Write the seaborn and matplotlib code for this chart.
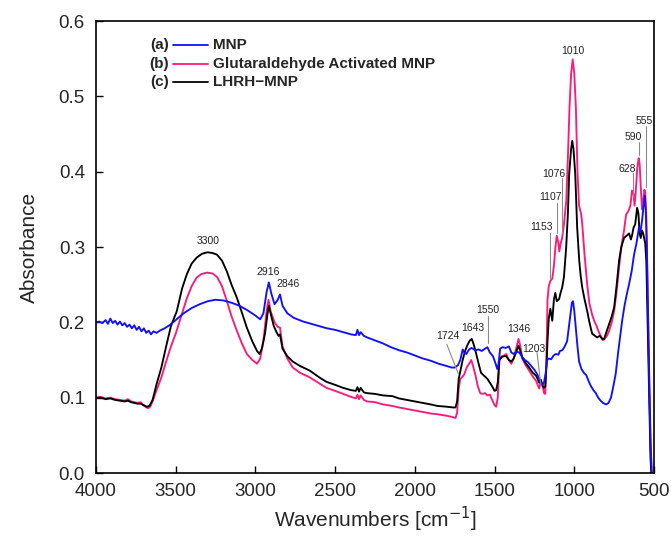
import pandas as pd
import seaborn as sns
import matplotlib.pyplot as plt

# (a) MNP
mnp_wn = [4000, 3980, 3960, 3940, 3925, 3910, 3895, 3880, 3865, 3850, 3835, 3820, 3805, 3790,
          3775, 3760, 3745, 3730, 3715, 3700, 3685, 3670, 3655, 3640, 3620, 3600, 3570, 3540,
          3500, 3450, 3400, 3350, 3300, 3250, 3200, 3150, 3100, 3050, 3000, 2970, 2950, 2930,
          2916, 2900, 2880, 2860, 2846, 2830, 2800, 2760, 2700, 2650, 2600, 2550, 2500, 2450,
          2400, 2370, 2360, 2350, 2340, 2320, 2300, 2250, 2200, 2150, 2100, 2050, 2000, 1950,
          1900, 1850, 1800, 1770, 1750, 1730, 1715, 1700, 1690, 1677, 1660, 1645, 1620, 1600,
          1580, 1560, 1545, 1530, 1510, 1495, 1483, 1475, 1465, 1450, 1430, 1410, 1395, 1380,
          1360, 1345, 1330, 1310, 1290, 1270, 1250, 1230, 1215, 1200, 1190, 1180, 1170, 1160,
          1145, 1130, 1115, 1100, 1090, 1075, 1060, 1045, 1030, 1015, 1008, 1000, 990, 980,
          970, 955, 940, 925, 910, 895, 880, 865, 850, 835, 820, 800, 785, 770, 755, 740, 725,
          710, 700, 685, 670, 656, 640, 625, 610, 600, 594, 585, 575, 565, 558, 552, 545, 538,
          530, 522, 515]
mnp_abs = [0.200, 0.201, 0.199, 0.203, 0.198, 0.205, 0.199, 0.202, 0.197, 0.201, 0.196, 0.199,
           0.194, 0.197, 0.192, 0.196, 0.190, 0.194, 0.188, 0.192, 0.186, 0.189, 0.184, 0.188,
           0.186, 0.189, 0.192, 0.196, 0.203, 0.212, 0.219, 0.224, 0.228, 0.230, 0.229, 0.226,
           0.222, 0.216, 0.209, 0.204, 0.212, 0.240, 0.253, 0.238, 0.224, 0.230, 0.237, 0.222,
           0.212, 0.206, 0.201, 0.198, 0.195, 0.192, 0.190, 0.187, 0.184, 0.183, 0.190, 0.183,
           0.187, 0.182, 0.180, 0.176, 0.172, 0.167, 0.163, 0.160, 0.156, 0.152, 0.149, 0.145,
           0.142, 0.140, 0.140, 0.143, 0.150, 0.164, 0.160, 0.158, 0.164, 0.166, 0.163, 0.164,
           0.162, 0.165, 0.167, 0.160, 0.155, 0.146, 0.138, 0.145, 0.165, 0.167, 0.166, 0.168,
           0.160, 0.158, 0.161, 0.160, 0.155, 0.150, 0.147, 0.142, 0.137, 0.130, 0.122, 0.117,
           0.120, 0.132, 0.150, 0.152, 0.151, 0.156, 0.158, 0.157, 0.162, 0.163, 0.168, 0.175,
           0.200, 0.226, 0.228, 0.215, 0.192, 0.168, 0.148, 0.138, 0.133, 0.130, 0.122, 0.115,
           0.110, 0.106, 0.100, 0.096, 0.093, 0.091, 0.093, 0.100, 0.115, 0.132, 0.160, 0.185,
           0.202, 0.222, 0.238, 0.251, 0.268, 0.290, 0.305, 0.318, 0.326, 0.320, 0.335, 0.355,
           0.368, 0.350, 0.300, 0.220, 0.120, 0.040, 0.000]

# (b) Glutaraldehyde Activated MNP
glu_wn = [4000, 3970, 3940, 3910, 3880, 3850, 3820, 3800, 3780, 3760, 3740, 3720, 3705, 3690,
          3675, 3660, 3645, 3620, 3590, 3560, 3530, 3500, 3460, 3430, 3400, 3370, 3340, 3305,
          3270, 3240, 3210, 3180, 3150, 3117, 3085, 3054, 3020, 2990, 2970, 2950, 2930, 2918,
          2905, 2880, 2860, 2846, 2830, 2800, 2766, 2720, 2660, 2600, 2554, 2500, 2450, 2400,
          2370, 2360, 2350, 2340, 2320, 2300, 2250, 2200, 2140, 2100, 2050, 2000, 1950, 1900,
          1858, 1800, 1760, 1745, 1735, 1725, 1715, 1700, 1690, 1675, 1660, 1646, 1635, 1620,
          1605, 1590, 1577, 1560, 1545, 1530, 1515, 1500, 1490, 1480, 1470, 1455, 1440, 1427,
          1410, 1395, 1380, 1365, 1350, 1340, 1326, 1305, 1283, 1260, 1239, 1220, 1210, 1200,
          1190, 1182, 1175, 1168, 1160, 1150, 1138, 1128, 1118, 1110, 1100, 1094, 1085, 1076,
          1065, 1050, 1040, 1030, 1020, 1010, 1000, 990, 980, 970, 957, 950, 935, 919, 905,
          888, 875, 860, 844, 830, 820, 810, 795, 781, 765, 750, 735, 719, 705, 688, 675, 660,
          648, 638, 628, 622, 615, 605, 596, 590, 582, 575, 568, 560, 555, 548, 540, 530, 520,
          513]
glu_abs = [0.100, 0.101, 0.099, 0.100, 0.098, 0.097, 0.096, 0.098, 0.095, 0.094, 0.093, 0.094,
           0.090, 0.088, 0.086, 0.088, 0.095, 0.110, 0.127, 0.148, 0.168, 0.185, 0.212, 0.232,
           0.248, 0.259, 0.264, 0.266, 0.265, 0.260, 0.248, 0.229, 0.208, 0.189, 0.172, 0.158,
           0.150, 0.145, 0.152, 0.175, 0.215, 0.230, 0.215, 0.200, 0.194, 0.193, 0.168, 0.152,
           0.140, 0.133, 0.127, 0.119, 0.113, 0.109, 0.105, 0.101, 0.099, 0.104, 0.098, 0.103,
           0.097, 0.095, 0.094, 0.091, 0.089, 0.087, 0.085, 0.083, 0.081, 0.079, 0.078, 0.076,
           0.074, 0.073, 0.080, 0.112, 0.125, 0.128, 0.131, 0.140, 0.145, 0.150, 0.142, 0.130,
           0.115, 0.106, 0.105, 0.106, 0.103, 0.104, 0.097, 0.090, 0.088, 0.100, 0.150, 0.155,
           0.156, 0.158, 0.150, 0.145, 0.152, 0.165, 0.178, 0.170, 0.152, 0.143, 0.136, 0.128,
           0.122, 0.112, 0.122, 0.118, 0.106, 0.105, 0.150, 0.230, 0.248, 0.255, 0.258, 0.275,
           0.300, 0.315, 0.306, 0.294, 0.305, 0.312, 0.330, 0.362, 0.420, 0.485, 0.530, 0.549,
           0.530, 0.485, 0.400, 0.355, 0.344, 0.330, 0.288, 0.250, 0.225, 0.210, 0.202, 0.195,
           0.186, 0.180, 0.176, 0.178, 0.182, 0.189, 0.200, 0.215, 0.240, 0.273, 0.300, 0.322,
           0.343, 0.348, 0.355, 0.375, 0.370, 0.355, 0.372, 0.405, 0.418, 0.410, 0.375, 0.350,
           0.362, 0.376, 0.372, 0.340, 0.250, 0.130, 0.030, 0.000]

# (c) LHRH-MNP
lhrh_wn = [4000, 3970, 3940, 3910, 3880, 3850, 3820, 3800, 3780, 3760, 3740, 3720, 3700, 3682,
           3665, 3645, 3620, 3590, 3560, 3530, 3493, 3460, 3430, 3400, 3368, 3335, 3300, 3270,
           3242, 3210, 3180, 3150, 3117, 3085, 3054, 3020, 2990, 2975, 2960, 2940, 2925, 2916,
           2905, 2885, 2870, 2855, 2846, 2830, 2800, 2766, 2720, 2660, 2600, 2554, 2500, 2450,
           2400, 2370, 2360, 2350, 2340, 2320, 2300, 2250, 2200, 2140, 2100, 2050, 2000, 1950,
           1900, 1858, 1800, 1760, 1745, 1735, 1725, 1715, 1700, 1685, 1670, 1655, 1643, 1630,
           1615, 1600, 1585, 1570, 1545, 1530, 1515, 1500, 1490, 1480, 1470, 1455, 1440, 1427,
           1410, 1395, 1380, 1365, 1350, 1340, 1326, 1305, 1283, 1260, 1239, 1220, 1210, 1200,
           1190, 1182, 1175, 1168, 1160, 1150, 1138, 1128, 1119, 1110, 1095, 1085, 1076, 1065,
           1051, 1040, 1032, 1020, 1013, 1005, 994, 982, 969, 960, 950, 935, 919, 905, 888, 870,
           857, 840, 825, 813, 797, 781, 765, 750, 735, 719, 705, 688, 672, 656, 645, 638, 628,
           618, 606, 598, 590, 583, 575, 568, 562, 555, 548, 540, 530, 522, 517]
lhrh_abs = [0.100, 0.100, 0.098, 0.099, 0.097, 0.096, 0.095, 0.096, 0.094, 0.093, 0.092, 0.092,
            0.090, 0.088, 0.089, 0.097, 0.118, 0.140, 0.168, 0.195, 0.215, 0.245, 0.264, 0.278,
            0.286, 0.291, 0.293, 0.292, 0.290, 0.282, 0.268, 0.250, 0.233, 0.213, 0.193, 0.175,
            0.162, 0.158, 0.165, 0.185, 0.210, 0.222, 0.212, 0.195, 0.188, 0.182, 0.184, 0.165,
            0.155, 0.148, 0.142, 0.136, 0.127, 0.121, 0.117, 0.113, 0.110, 0.109, 0.114, 0.108,
            0.113, 0.107, 0.106, 0.105, 0.103, 0.102, 0.099, 0.097, 0.095, 0.093, 0.091, 0.089,
            0.088, 0.087, 0.087, 0.095, 0.125, 0.135, 0.150, 0.162, 0.170, 0.176, 0.178, 0.170,
            0.158, 0.145, 0.133, 0.130, 0.125, 0.120, 0.115, 0.109, 0.110, 0.120, 0.150, 0.154,
            0.155, 0.155, 0.150, 0.148, 0.152, 0.160, 0.169, 0.163, 0.153, 0.146, 0.140, 0.133,
            0.129, 0.120, 0.124, 0.116, 0.113, 0.115, 0.140, 0.175, 0.205, 0.218, 0.202, 0.230,
            0.239, 0.228, 0.231, 0.240, 0.246, 0.260, 0.299, 0.345, 0.397, 0.430, 0.441, 0.430,
            0.397, 0.326, 0.282, 0.262, 0.246, 0.230, 0.215, 0.200, 0.185, 0.182, 0.180, 0.182,
            0.178, 0.178, 0.188, 0.198, 0.208, 0.220, 0.248, 0.282, 0.300, 0.312, 0.315, 0.318,
            0.310, 0.315, 0.326, 0.330, 0.352, 0.345, 0.318, 0.312, 0.322, 0.318, 0.312, 0.305,
            0.280, 0.200, 0.100, 0.020, 0.000]

# peak labels (text position in data units)
peak_labels = ["3300", "2916", "2846", "1724", "1643", "1550", "1346", "1203",
               "1153", "1107", "1076", "1010", "628", "590", "555"]
peak_wn = [3299, 2923, 2798, 1796, 1639, 1545, 1351, 1251,
           1209, 1152, 1127, 1010, 669, 632, 559]
peak_abs = [0.308, 0.267, 0.251, 0.182, 0.193, 0.217, 0.191, 0.165,
            0.326, 0.366, 0.397, 0.560, 0.404, 0.446, 0.467]

# leader lines: (wn start, abs start, wn end, abs end)
leader_wn0 = [1800, 1539, 1234, 1153, 1109, 1079, 630, 594, 553]
leader_a0 = [0.171, 0.209, 0.160, 0.318, 0.359, 0.391, 0.398, 0.439, 0.460]
leader_wn1 = [1728, 1539, 1209, 1153, 1109, 1079, 630, 594, 553]
leader_a1 = [0.132, 0.173, 0.116, 0.258, 0.318, 0.318, 0.366, 0.422, 0.379]

series_names = ["MNP", "Glutaraldehyde Activated MNP", "LHRH\u2212MNP"]
series_tags = ["(a)", "(b)", "(c)"]
series_colors = ["#1010ff", "#ff1a78", "#000000"]

sns.set_theme(style="white")
plt.rcParams['font.family'] = ['Liberation Sans', 'DejaVu Sans']

fig = plt.figure(figsize=(6.71, 5.39), dpi=100)
ax = fig.add_axes([96 / 671, 1 - 473 / 539, 558 / 671, 452 / 539])

df_mnp = pd.DataFrame({"wn": mnp_wn, "abs": mnp_abs})
df_glu = pd.DataFrame({"wn": glu_wn, "abs": glu_abs})
df_lhrh = pd.DataFrame({"wn": lhrh_wn, "abs": lhrh_abs})

sns.lineplot(data=df_glu, x="wn", y="abs", ax=ax, color=series_colors[1], lw=1.35)
sns.lineplot(data=df_lhrh, x="wn", y="abs", ax=ax, color=series_colors[2], lw=1.35)
sns.lineplot(data=df_mnp, x="wn", y="abs", ax=ax, color=series_colors[0], lw=1.35)

for lab, w, a in zip(peak_labels, peak_wn, peak_abs):
    ax.text(w, a, lab, ha="center", va="center", fontsize=7.5, color="#222222")
for w0, a0, w1, a1 in zip(leader_wn0, leader_a0, leader_wn1, leader_a1):
    ax.plot([w0, w1], [a0, a1], color="#8a8a8a", lw=0.8)

# legend drawn by hand: tag, line, name
leg_y = [0.947, 0.905, 0.864]
for tag, name, col, y in zip(series_tags, series_names, series_colors, leg_y):
    ax.text(0.130, y, tag, transform=ax.transAxes, ha="right", va="center",
            fontsize=11, fontweight="bold")
    ax.plot([0.138, 0.200], [y, y], transform=ax.transAxes, color=col, lw=1.3)
    ax.text(0.209, y, name, transform=ax.transAxes, ha="left", va="center",
            fontsize=11, fontweight="bold")

ax.set_xlim(4000, 500)
ax.set_ylim(0, 0.6)
ax.set_xticks([4000, 3500, 3000, 2500, 2000, 1500, 1000, 500])
ax.set_yticks([0.0, 0.1, 0.2, 0.3, 0.4, 0.5, 0.6])
ax.set_yticklabels(["0.0", "0.1", "0.2", "0.3", "0.4", "0.5", "0.6"])
ax.tick_params(direction="in", length=5, width=1, labelsize=13.5, color="black",
               bottom=True, left=True, top=False, right=False)
ax.tick_params(axis="y", pad=8)
ax.tick_params(axis="x", pad=7)
for s in ax.spines.values():
    s.set_color("black")
    s.set_linewidth(1.2)

ax.set_xlabel("Wavenumbers [cm$^{-1}$]", fontsize=15, labelpad=4)
ax.set_ylabel("Absorbance", fontsize=15, labelpad=14)

plt.savefig("out.png", dpi=100)
